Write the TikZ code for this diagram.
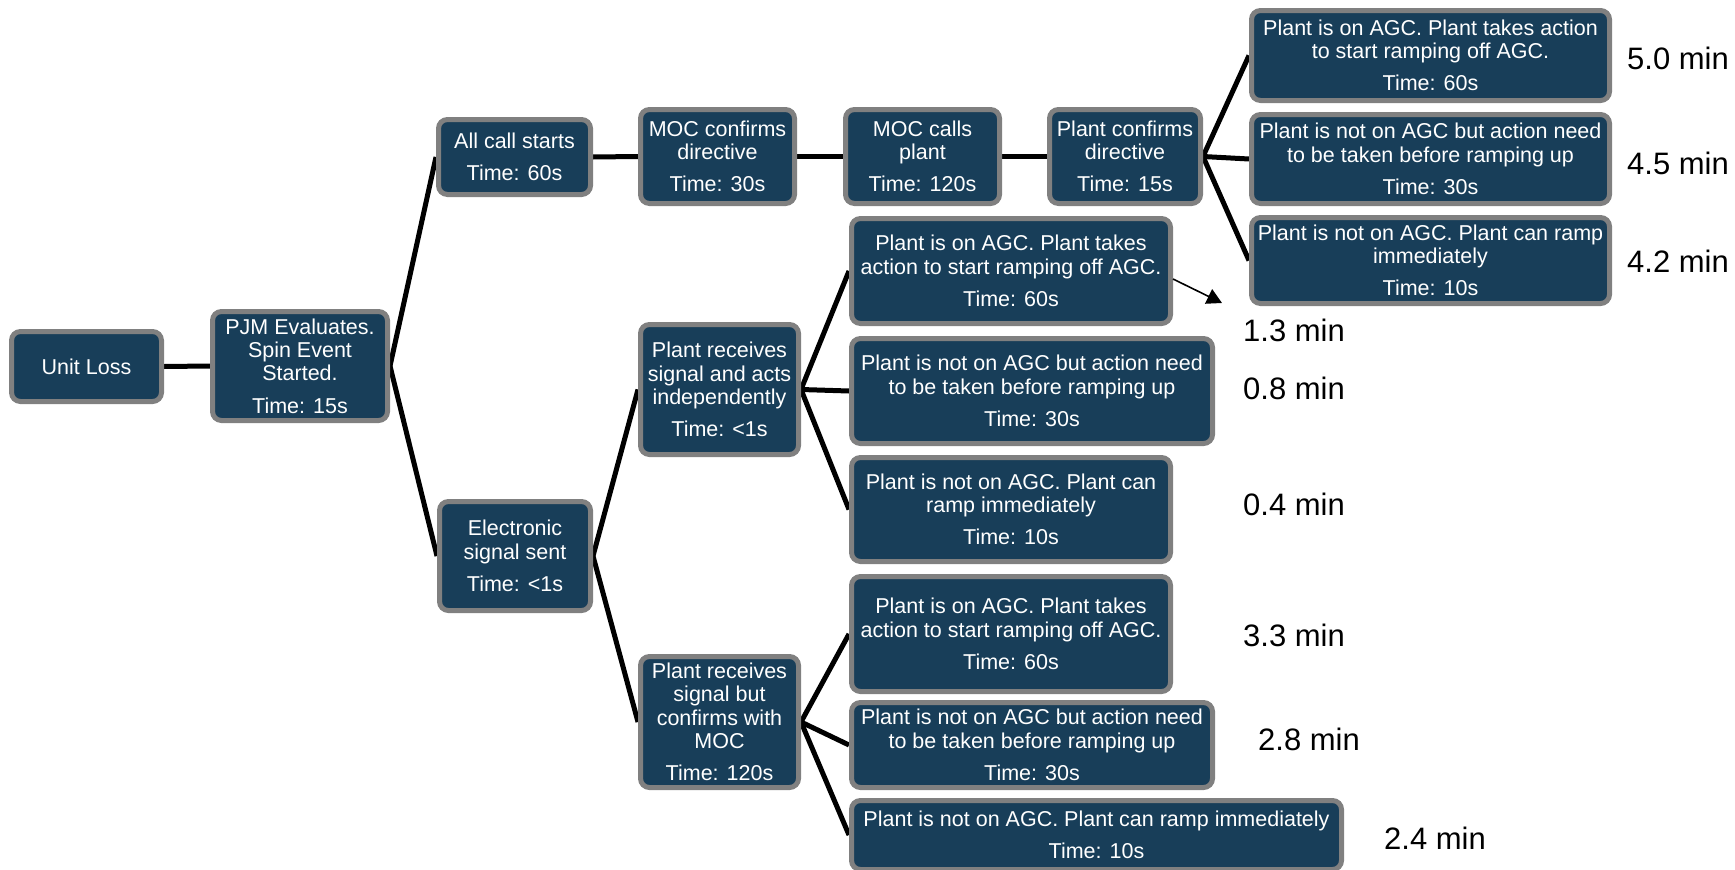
\documentclass[tikz,border=0pt]{standalone}
\usepackage{fontspec}
\setmainfont{Liberation Sans}
\usetikzlibrary{arrows.meta}
\definecolor{navy}{RGB}{24,62,89}
\definecolor{boxgray}{RGB}{128,128,128}
\newcommand\boxfont{\fontsize{21.5}{23.3}\selectfont}
\newcommand\minfont{\fontsize{31}{34}\selectfont}
\pgfdeclarelayer{back}
\pgfdeclarelayer{lines}
\pgfsetlayers{back,lines,main}
\tikzset{
  box/.style={rectangle, rounded corners=9pt, draw=boxgray, line width=5pt, fill=navy,
    text=white, align=center, inner sep=0pt, font=\boxfont},
  conn/.style={line width=5pt, black},
  mins/.style={anchor=west, inner sep=0pt, font=\minfont, text=black},
  pointer/.style={line width=1.6pt, black, -{Triangle[length=15pt,width=16pt]}}
}
\begin{document}
\begin{tikzpicture}[x=1pt,y=-1pt]
\useasboundingbox (0,0) rectangle (1735,870);
\clip (0,0) rectangle (1735,870);
\begin{pgfonlayer}{back}
\fill[white] (0,0) rectangle (1735,870);
\end{pgfonlayer}
% nodes
\node[box, minimum width=150pt, minimum height=70pt] (unit) at (86.5,366.5) {Unit Loss};
\node[box, minimum width=175pt, minimum height=109pt] (pjm) at (300,366) {PJM Evaluates.\\Spin Event\\Started.\\[9pt]Time: 15s};
\node[box, minimum width=152pt, minimum height=75pt] (allcall) at (514.5,157) {All call starts\\[9pt]Time: 60s};
\node[box, minimum width=154pt, minimum height=94pt] (mocconf) at (717.5,156.5) {MOC confirms\\directive\\[9pt]Time: 30s};
\node[box, minimum width=154pt, minimum height=94pt] (moccall) at (922.5,156.5) {MOC calls\\plant\\[9pt]Time: 120s};
\node[box, minimum width=151pt, minimum height=94pt] (plconf) at (1125,156.5) {Plant confirms\\directive\\[9pt]Time: 15s};
\node[box, minimum width=358pt, minimum height=90pt] (r1) at (1430.5,55.5) {Plant is on AGC. Plant takes action\\to start ramping off AGC.\\[9pt]Time: 60s};
\node[box, minimum width=358pt, minimum height=89pt] (r2) at (1430.5,159) {Plant is not on AGC but action need\\to be taken before ramping up\\[9pt]Time: 30s};
\node[box, minimum width=358pt, minimum height=86pt] (r3) at (1430.5,260.5) {Plant is not on AGC. Plant can ramp\\immediately\\[9pt]Time: 10s};
\node[box, minimum width=151pt, minimum height=109pt] (elec) at (515,556) {Electronic\\signal sent\\[9pt]Time: <1s};
\node[box, minimum width=158pt, minimum height=130pt] (indep) at (719.5,389.5) {Plant receives\\signal and acts\\independently\\[9pt]Time: <1s};
\node[box, minimum width=158pt, minimum height=131pt] (conf) at (719.5,722) {Plant receives\\signal but\\confirms with\\MOC\\[9pt]Time: 120s};
\node[box, minimum width=319pt, minimum height=105pt] (a1) at (1011,271) {Plant is on AGC. Plant takes\\action to start ramping off AGC.\\[9pt]Time: 60s};
\node[box, minimum width=361pt, minimum height=105pt] (a2) at (1032,391) {Plant is not on AGC but action need\\to be taken before ramping up\\[9pt]Time: 30s};
\node[box, minimum width=319pt, minimum height=104pt] (a3) at (1011,509.5) {Plant is not on AGC. Plant can\\ramp immediately\\[9pt]Time: 10s};
\node[box, minimum width=319pt, minimum height=115pt] (b1) at (1011,634) {Plant is on AGC. Plant takes\\action to start ramping off AGC.\\[9pt]Time: 60s};
\node[box, minimum width=361pt, minimum height=85pt] (b2) at (1032,745) {Plant is not on AGC but action need\\to be taken before ramping up\\[9pt]Time: 30s};
\node[box, minimum width=490pt, minimum height=69pt] (b3) at (1096.5,835) {Plant is not on AGC. Plant can ramp immediately\\[9pt]Time: 10s};
% connectors (behind the boxes)
\begin{pgfonlayer}{lines}
\draw[conn] (unit.east) -- (pjm.west);
\draw[conn] (pjm.east) -- (allcall.west);
\draw[conn] (pjm.east) -- (elec.west);
\draw[conn] (allcall.east) -- (mocconf.west);
\draw[conn] (mocconf.east) -- (moccall.west);
\draw[conn] (moccall.east) -- (plconf.west);
\draw[conn] (plconf.east) -- (r1.west);
\draw[conn] (plconf.east) -- (r2.west);
\draw[conn] (plconf.east) -- (r3.west);
\draw[conn] (elec.east) -- (indep.west);
\draw[conn] (elec.east) -- (conf.west);
\draw[conn] (indep.east) -- (a1.west);
\draw[conn] (indep.east) -- (a2.west);
\draw[conn] (indep.east) -- (a3.west);
\draw[conn] (conf.east) -- (b1.west);
\draw[conn] (conf.east) -- (b2.west);
\draw[conn] (conf.east) -- (b3.west);
\end{pgfonlayer}
% pointer arrow
\coordinate (arrtip) at (1222,303);
\draw[pointer] ([yshift=-8pt]a1.east) -- (arrtip);
% time labels
\node[mins] (m50) at (1627,58.6) {5.0 min};
\node[mins] (m45) at (1627,163.8) {4.5 min};
\node[mins] (m42) at (1627,261) {4.2 min};
\node[mins] (m13) at (1243,330) {1.3 min};
\node[mins] (m08) at (1243,388) {0.8 min};
\node[mins] (m04) at (1243,504.6) {0.4 min};
\node[mins] (m33) at (1243,635) {3.3 min};
\node[mins] (m28) at (1258,739) {2.8 min};
\node[mins] (m24) at (1384,838) {2.4 min};
\end{tikzpicture}
\end{document}
